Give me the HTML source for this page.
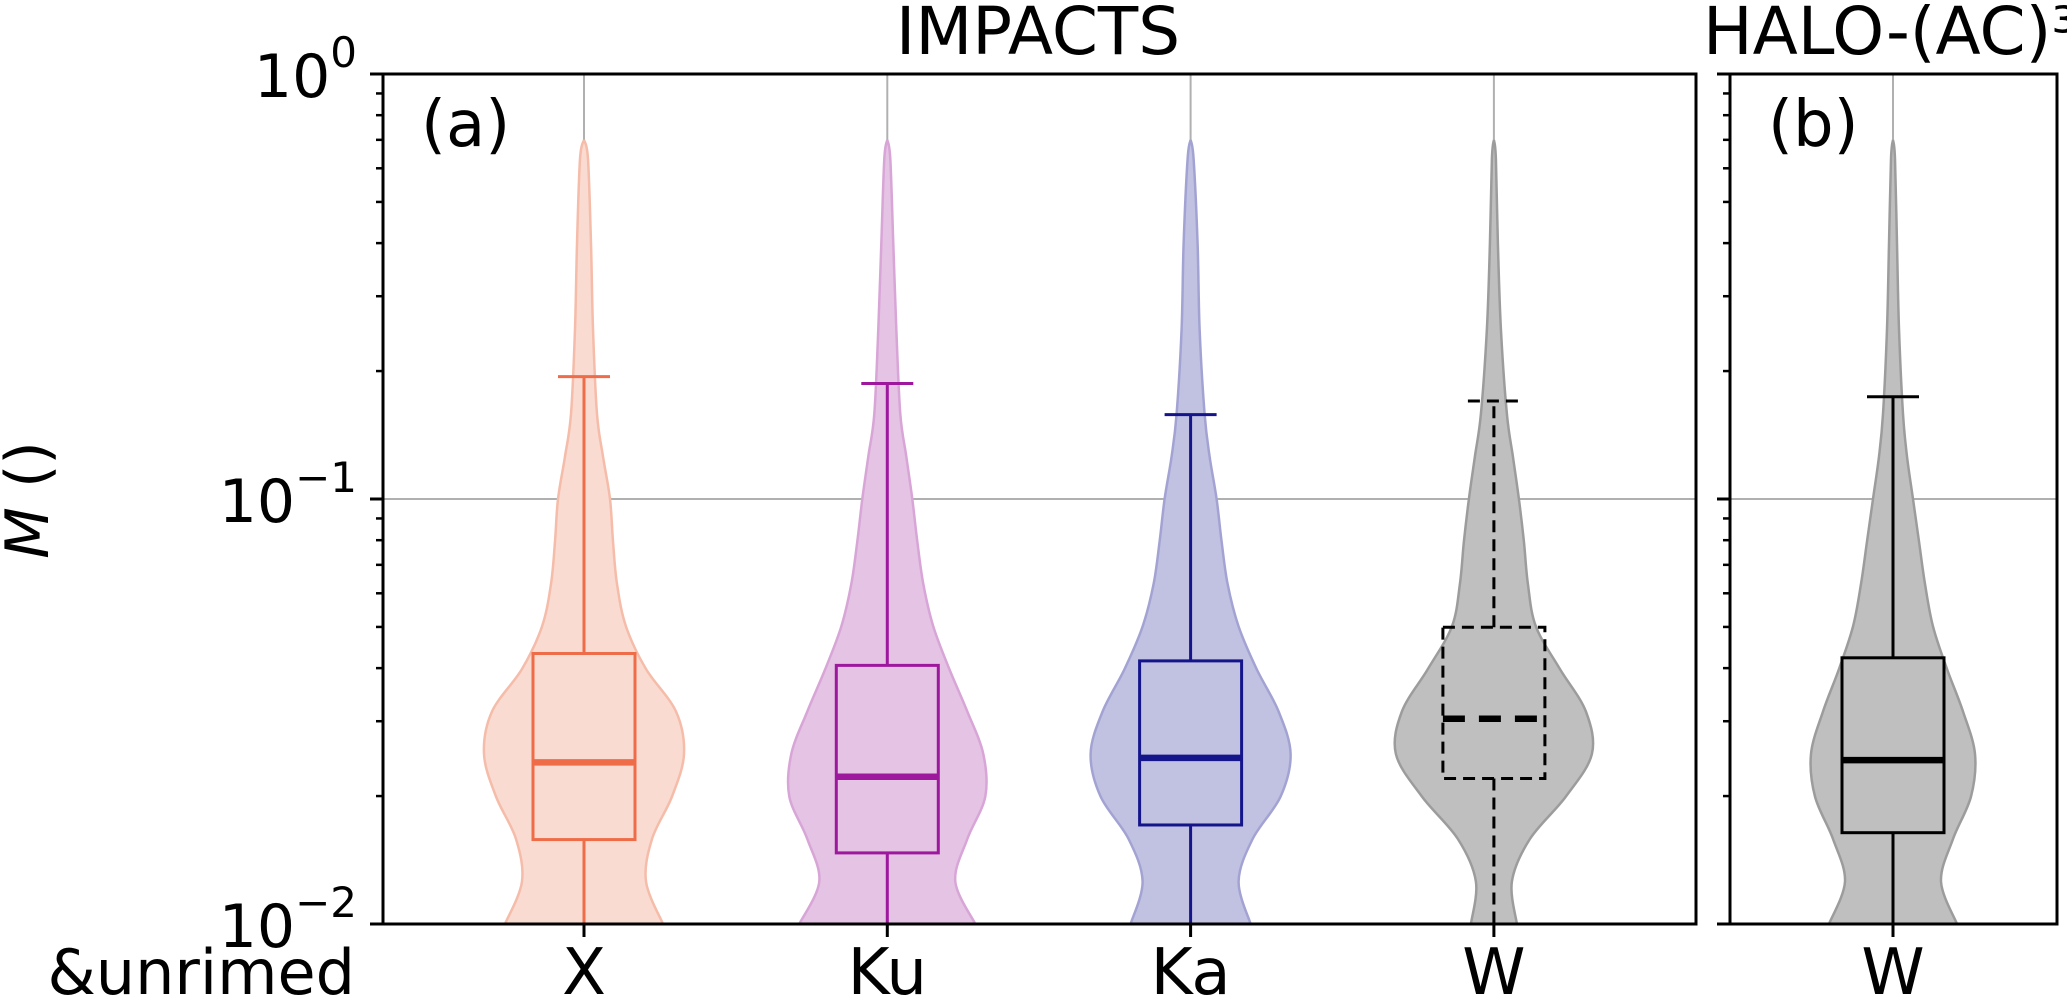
<!DOCTYPE html>
<html><head><meta charset="utf-8"><style>
body{margin:0;background:#fff}
svg{display:block;font-family:"DejaVu Sans","Liberation Sans",sans-serif}
</style></head><body>
<svg id="chart" width="2067" height="996" viewBox="0 0 2067 996" xmlns="http://www.w3.org/2000/svg">
<g id="grid"></g><g id="marks"></g><g id="axes"></g>
</svg>
<script>
const categories = ["X","Ku","Ka","W"];
const categoriesB = ["W"];
const levels = [-2,-1.9,-1.8,-1.7,-1.6,-1.5,-1.4,-1.3,-1.2,-1.1,-1.0,-0.9,-0.8,-0.6,-0.4,-0.2,-0.155];
const widthX  = [79,62,68,88,100,92,62,42,33,29,26,19,13,9,7,4,0];
const widthKu = [88,68,80,98,96,80,62,46,36,30,25,19,13,9,6,3,0];
const widthKa = [60,48,62,90,100,88,66,48,37,31,26,19,14,9,7,3,0];
const widthW  = [23,18,36,72,98,92,66,42,34,30,25,19,13,7,4,2,0];
const widthB  = [64,48,60,78,82,70,54,40,32,26,20,14,10,6,4,2,0];
const q1 = [0.0158,0.0147,0.0171,0.0220];
const median = [0.0240,0.0222,0.0246,0.0304];
const q3 = [0.0433,0.0406,0.0416,0.0499];
const whiskerHi = [0.194,0.187,0.158,0.170];
const whiskerLo = [0.01,0.01,0.01,0.01];
const q1B = [0.0164], medianB=[0.0243], q3B=[0.0423], whiskerHiB=[0.174], whiskerLoB=[0.01];
const yTickExps = [0,-1,-2];

const NS="http://www.w3.org/2000/svg";
const TOP=74,BOT=924;
function y(v){return TOP+(-Math.log10(v))*(BOT-TOP)/2;}
function yl(l){return TOP+(-l)*(BOT-TOP)/2;}
function xa(i){return 584+i*303.3;}
function xb(i){return 1893+i*300;}
function mk(tag,attrs,parent){const e=document.createElementNS(NS,tag);for(const k in attrs)e.setAttribute(k,attrs[k]);parent.appendChild(e);return e;}
const grid=document.getElementById('grid'),marks=document.getElementById('marks'),axes=document.getElementById('axes');
const panels=[{l:383,r:1696},{l:1730,r:2057}];
panels.forEach(p=>{const g=mk('line',{x1:p.l,x2:p.r,y1:y(0.1),y2:y(0.1),stroke:'#b0b0b0','stroke-width':2},grid);
});
categories.forEach((c,i)=>{const g=mk('line',{x1:xa(i),x2:xa(i),y1:TOP,y2:BOT,stroke:'#b0b0b0','stroke-width':2},grid);
});
{const g=mk('line',{x1:xb(0),x2:xb(0),y1:TOP,y2:BOT,stroke:'#b0b0b0','stroke-width':2},grid);
}

function smooth(pts){let d='M'+pts[0][0]+','+pts[0][1];
for(let i=0;i<pts.length-1;i++){const p0=pts[Math.max(i-1,0)],p1=pts[i],p2=pts[i+1],p3=pts[Math.min(i+2,pts.length-1)];
d+=' C'+(p1[0]+(p2[0]-p0[0])/6)+','+(p1[1]+(p2[1]-p0[1])/6)+' '+(p2[0]-(p3[0]-p1[0])/6)+','+(p2[1]-(p3[1]-p1[1])/6)+' '+p2[0]+','+p2[1];}
return d;}
function violin(cx,w,fill,edge,name){
  const right=levels.map((l,k)=>[cx+w[k],yl(l)]);
  const left=levels.map((l,k)=>[cx-w[k],yl(l)]).reverse();
  let d=smooth(right)+' L'+left[0][0]+','+left[0][1]+' '+smooth(left).slice(1).replace(/^[^C]*/,'')+' Z';
  const p=mk('path',{d:d,fill:fill,stroke:edge,'stroke-width':2.5},marks);
  
}
function box(cx,a,m,b,hi,lo,col,dash,name){
  const g=mk('g',{},marks);
  const da=dash?{'stroke-dasharray':'12,7'}:{};
  const st=Object.assign({stroke:col,'stroke-width':3,fill:'none'},da);
  mk('line',Object.assign({x1:cx,x2:cx,y1:y(b),y2:y(hi)},st),g);
  mk('line',Object.assign({x1:cx,x2:cx,y1:y(a),y2:y(lo)},st),g);
  mk('line',Object.assign({x1:cx-26,x2:cx+26,y1:y(hi),y2:y(hi)},st),g);
  mk('line',Object.assign({x1:cx-26,x2:cx+26,y1:y(lo),y2:y(lo)},st),g);
  mk('rect',Object.assign({x:cx-51,y:y(b),width:102,height:y(a)-y(b)},st),g);
  const ms=Object.assign({},st,{'stroke-width':6.5});if(dash)ms['stroke-dasharray']='22,14';
  mk('line',Object.assign({x1:cx-51,x2:cx+51,y1:y(m),y2:y(m)},ms),g);
}
const widths=[widthX,widthKu,widthKa,widthW];
const fills=['#fadbd1','#e5c3e4','#c1c1e2','#bfbfbf'];
const edges=['#f5bca9','#d8a5d7','#a3a3d3','#9c9c9c'];
const lines=['#ee6c48','#9e189e','#15158b','#000'];
categories.forEach((c,i)=>{violin(xa(i),widths[i],fills[i],edges[i],'violin-'+c.toLowerCase());
box(xa(i),q1[i],median[i],q3[i],whiskerHi[i],whiskerLo[i],lines[i],c==='W','box-'+c.toLowerCase());});
violin(xb(0),widthB,'#bfbfbf','#9c9c9c','violin-b-w');
box(xb(0),q1B[0],medianB[0],q3B[0],whiskerHiB[0],whiskerLoB[0],'#000',false,'box-b-w');

panels.forEach((p,pi)=>{const r=mk('rect',{x:p.l,y:TOP,width:p.r-p.l,height:BOT-TOP,fill:'none',stroke:'#000','stroke-width':3},axes);

for(let e=-2;e<0;e++){for(let m=2;m<10;m++){const yy=y(m*Math.pow(10,e));
const t=mk('line',{x1:p.l-7,x2:p.l,y1:yy,y2:yy,stroke:'#000','stroke-width':2.5},axes);
}}
yTickExps.forEach(e=>{const t=mk('line',{x1:p.l-13,x2:p.l,y1:y(Math.pow(10,e)),y2:y(Math.pow(10,e)),stroke:'#000','stroke-width':3},axes);
});
});
yTickExps.forEach(e=>{const t=mk('text',{x:357,y:y(Math.pow(10,e))+23,'text-anchor':'end','font-size':60},axes);

t.innerHTML='10<tspan dy="-30" font-size="42">'+(e<0?'\u2212'+(-e):e)+'</tspan>';});
function xtick(x,label){const t=mk('line',{x1:x,x2:x,y1:BOT,y2:BOT+13,stroke:'#000','stroke-width':3},axes);

const s=mk('text',{x:x,y:994,'text-anchor':'middle','font-size':64},axes);s.textContent=label;
}
categories.forEach((c,i)=>xtick(xa(i),c));categoriesB.forEach((c,i)=>xtick(xb(i),c));
</script>
<script>
const s=document.getElementById('chart');
s.insertAdjacentHTML('beforeend',
'<text x="355" y="994" text-anchor="end" font-size="62">&amp;unrimed</text>'+
'<text x="1038" y="54" text-anchor="middle" font-size="66">IMPACTS</text>'+
'<text x="1703" y="54" font-size="66">HALO-(AC)³</text>'+
'<text x="421" y="146" font-size="64">(a)</text>'+
'<text x="1768" y="146" font-size="64">(b)</text>'+
'<text transform="translate(48,500) rotate(-90)" text-anchor="middle" font-size="60"><tspan font-style="italic">M</tspan> ()</text>');
</script>
</body></html>
